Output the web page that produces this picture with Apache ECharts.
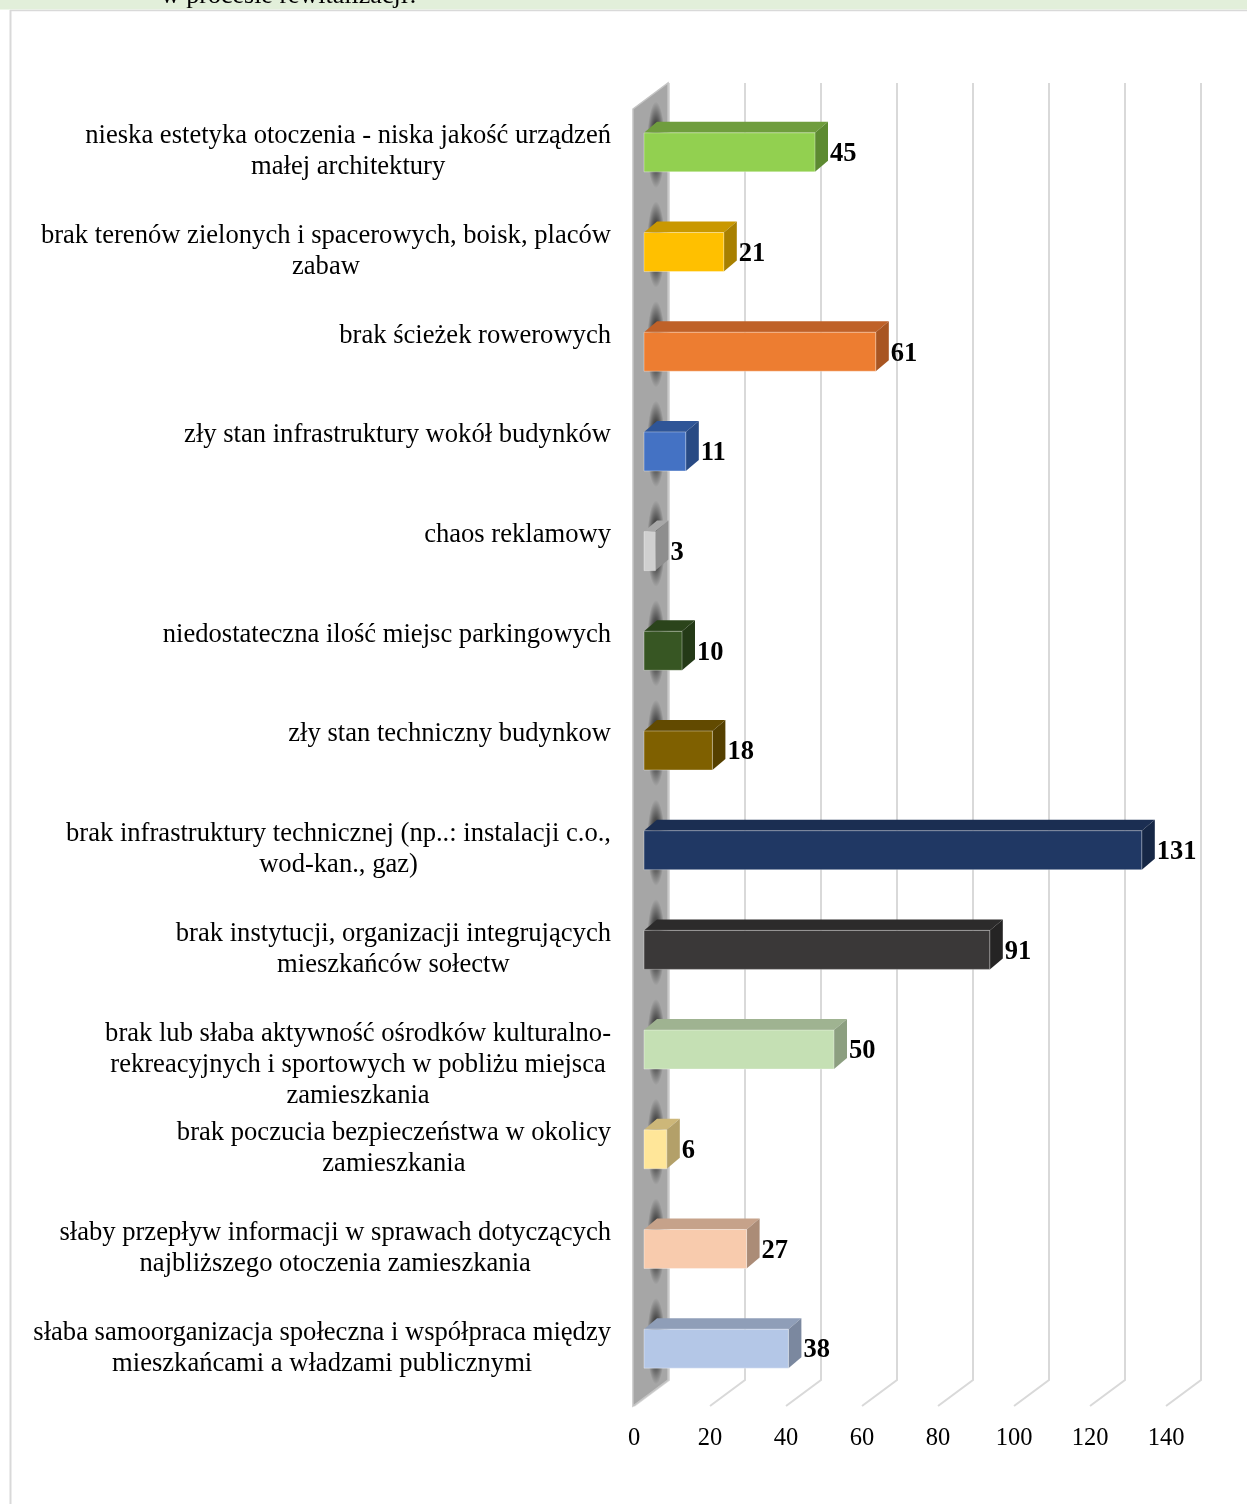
<!DOCTYPE html>
<html>
<head>
<meta charset="utf-8">
<script src="https://cdn.jsdelivr.net/npm/echarts@6/dist/echarts.min.js"></script>
<style>
  html, body { margin: 0; padding: 0; background: #ffffff; }
  #chart { width: 1247px; height: 1504px; }
</style>
</head>
<body>
<div id="chart"></div>
<script>
// Survey answers (top to bottom) and the number of responses for each one
const categories = [
  'nieska estetyka otoczenia - niska jakość urządzeń\nmałej architektury',
  'brak terenów zielonych i spacerowych, boisk, placów\nzabaw',
  'brak ścieżek rowerowych',
  'zły stan infrastruktury wokół budynków',
  'chaos reklamowy',
  'niedostateczna ilość miejsc parkingowych',
  'zły stan techniczny budynkow',
  'brak infrastruktury technicznej (np..: instalacji c.o.,\nwod-kan., gaz)',
  'brak instytucji, organizacji integrujących\nmieszkańców sołectw',
  'brak lub słaba aktywność ośrodków kulturalno-\nrekreacyjnych i sportowych w pobliżu miejsca\nzamieszkania',
  'brak poczucia bezpieczeństwa w okolicy\nzamieszkania',
  'słaby przepływ informacji w sprawach dotyczących\nnajbliższego otoczenia zamieszkania',
  'słaba samoorganizacja społeczna i współpraca między\nmieszkańcami a władzami publicznymi'
];
const counts = [45, 21, 61, 11, 3, 10, 18, 131, 91, 50, 6, 27, 38];
const xTicks = [0, 20, 40, 60, 80, 100, 120, 140];
const headerText = 'w procesie rewitalizacji?';

// Face colours of every 3D bar: front, top, right side
const palette = [
  { front: '#92d050', top: '#6f9d3d', side: '#5d8a31' },
  { front: '#ffc000', top: '#c99800', side: '#a88000' },
  { front: '#ed7d31', top: '#bf6128', side: '#a85522' },
  { front: '#4472c4', top: '#2f5597', side: '#284a84' },
  { front: '#d0d0d0', top: '#a8a8a8', side: '#8e8e8e' },
  { front: '#375623', top: '#2b441b', side: '#243a17' },
  { front: '#7f6000', top: '#624a00', side: '#554000' },
  { front: '#203864', top: '#1b2e52', side: '#162746' },
  { front: '#3a3838', top: '#2c2b2b', side: '#252424' },
  { front: '#c5e0b4', top: '#9fb391', side: '#8c9f80' },
  { front: '#ffe699', top: '#cdb779', side: '#b3a069' },
  { front: '#f8cbad', top: '#c6a28a', side: '#ab8c77' },
  { front: '#b4c7e7', top: '#8f9eb8', side: '#7b889f' }
];

const SERIF = "'Liberation Serif', 'Times New Roman', serif";
const DX = 13, DY = -11;          // depth of a bar (oblique projection)
const WALL_DX = 35, WALL_DY = -26; // depth of the floor / side wall
const BAR_OFFSET = 10;            // bars sit slightly behind the front plane
const BAR_TOP = 12, BAR_H = 39;   // front face relative to category anchor

const chart = echarts.init(document.getElementById('chart'), null, { renderer: 'canvas' });

function frame(cs) {
  const backTop = cs.y + 12;
  const backBottom = cs.y + cs.height + 13;
  return { backTop, backBottom, frontBottom: backBottom - WALL_DY };
}

// Back wall gridlines with their floor continuation
function renderGridLine(params, api) {
  const x = api.coord([api.value(0), 0])[0];
  const f = frame(params.coordSys);
  return {
    type: 'polyline',
    silent: true,
    shape: { points: [[x + WALL_DX, f.backTop], [x + WALL_DX, f.backBottom], [x, f.frontBottom]] },
    style: { stroke: '#d9d9d9', lineWidth: 2, fill: null }
  };
}

// Grey side wall along the category axis
function renderWall(params, api) {
  const x = api.coord([0, 0])[0];
  const f = frame(params.coordSys);
  return {
    type: 'polygon',
    silent: true,
    shape: {
      points: [
        [x - 1, f.backTop - WALL_DY],
        [x - 1 + WALL_DX, f.backTop],
        [x - 1 + WALL_DX, f.backBottom],
        [x - 1, f.frontBottom]
      ]
    },
    style: { fill: '#a6a6a6', stroke: '#c4c4c4', lineWidth: 1.5 }
  };
}

// 3D bar: shadow on the wall, top, side and front faces, value label
function renderBar(params, api) {
  const i = params.dataIndex;
  const v = api.value(0);
  const start = api.coord([0, i]);
  const end = api.coord([v, i]);
  const c = palette[i];
  const x0 = start[0] + BAR_OFFSET;
  const x1 = end[0] + BAR_OFFSET;
  const t = start[1] + BAR_TOP;
  const b = t + BAR_H;
  return {
    type: 'group',
    children: [
      {
        type: 'circle',
        silent: true,
        x: start[0] + 22,
        y: t + 12,
        scaleY: 4.8,
        shape: { cx: 0, cy: 0, r: 9 },
        style: {
          fill: new echarts.graphic.RadialGradient(0.5, 0.5, 0.5, [
            { offset: 0, color: 'rgba(0,0,0,0.95)' },
            { offset: 0.5, color: 'rgba(0,0,0,0.6)' },
            { offset: 1, color: 'rgba(0,0,0,0)' }
          ])
        }
      },
      {
        type: 'polygon',
        shape: { points: [[x0, t], [x0 + DX, t + DY], [x1 + DX, t + DY], [x1, t]] },
        style: { fill: c.top }
      },
      {
        type: 'polygon',
        shape: { points: [[x1, t], [x1 + DX, t + DY], [x1 + DX, b + DY], [x1, b]] },
        style: { fill: c.side }
      },
      {
        type: 'rect',
        shape: { x: x0, y: t, width: x1 - x0, height: BAR_H },
        style: { fill: c.front, stroke: 'rgba(255,255,255,0.35)', lineWidth: 1 }
      },
      {
        type: 'text',
        x: x1 + DX + 2,
        y: (t + b) / 2 + 2,
        style: {
          text: String(v),
          fill: '#000000',
          fontFamily: SERIF,
          fontSize: 26.5,
          fontWeight: 'bold',
          align: 'left',
          verticalAlign: 'middle'
        }
      }
    ]
  };
}

const option = {
  backgroundColor: '#ffffff',
  animation: false,
  grid: { left: 634, right: 81, top: 71, height: 1296, containLabel: false },
  xAxis: {
    type: 'value',
    min: 0,
    max: 140,
    interval: 20,
    axisLine: { show: false },
    axisTick: { show: false },
    splitLine: { show: false },
    axisLabel: {
      margin: 59,
      color: '#000000',
      fontFamily: SERIF,
      fontSize: 24.5
    }
  },
  yAxis: {
    type: 'category',
    inverse: true,
    data: categories,
    axisLine: { show: false },
    axisTick: { show: false },
    splitLine: { show: false },
    axisLabel: {
      interval: 0,
      margin: 23,
      align: 'right',
      verticalAlign: 'top',
      formatter: (val) => val.split('\n').map((line) => '{c|' + line + '}').join('\n'),
      rich: {
        c: {
          align: 'center',
          color: '#000000',
          fontFamily: SERIF,
          fontSize: 26.6,
          lineHeight: 31
        }
      }
    }
  },
  series: [
    {
      type: 'custom',
      name: 'gridlines',
      data: xTicks.map((t) => [t, 0]),
      encode: { x: 0, y: 1 },
      renderItem: renderGridLine,
      silent: true,
      z: 1
    },
    {
      type: 'custom',
      name: 'wall',
      data: [[0, 0]],
      encode: { x: 0, y: 1 },
      renderItem: renderWall,
      silent: true,
      z: 2
    },
    {
      type: 'custom',
      name: 'Liczba odpowiedzi',
      data: counts.map((v, i) => [v, i]),
      encode: { x: 0, y: 1 },
      renderItem: renderBar,
      z: 3
    }
  ],
  graphic: [
    {
      type: 'rect',
      silent: true,
      shape: { x: 0, y: 0, width: 1247, height: 9.5 },
      style: { fill: '#e2efda' }
    },
    {
      type: 'text',
      silent: true,
      x: 161,
      y: -17,
      style: {
        text: headerText,
        fill: '#000000',
        fontFamily: SERIF,
        fontSize: 26,
        verticalAlign: 'top'
      }
    },
    {
      type: 'line',
      silent: true,
      shape: { x1: 10, y1: 10.5, x2: 1247, y2: 10.5 },
      style: { stroke: '#d9d9d9', lineWidth: 1.5 }
    },
    {
      type: 'line',
      silent: true,
      shape: { x1: 10.5, y1: 10, x2: 10.5, y2: 1504 },
      style: { stroke: '#d9d9d9', lineWidth: 2 }
    }
  ]
};

chart.setOption(option);
</script>
</body>
</html>
